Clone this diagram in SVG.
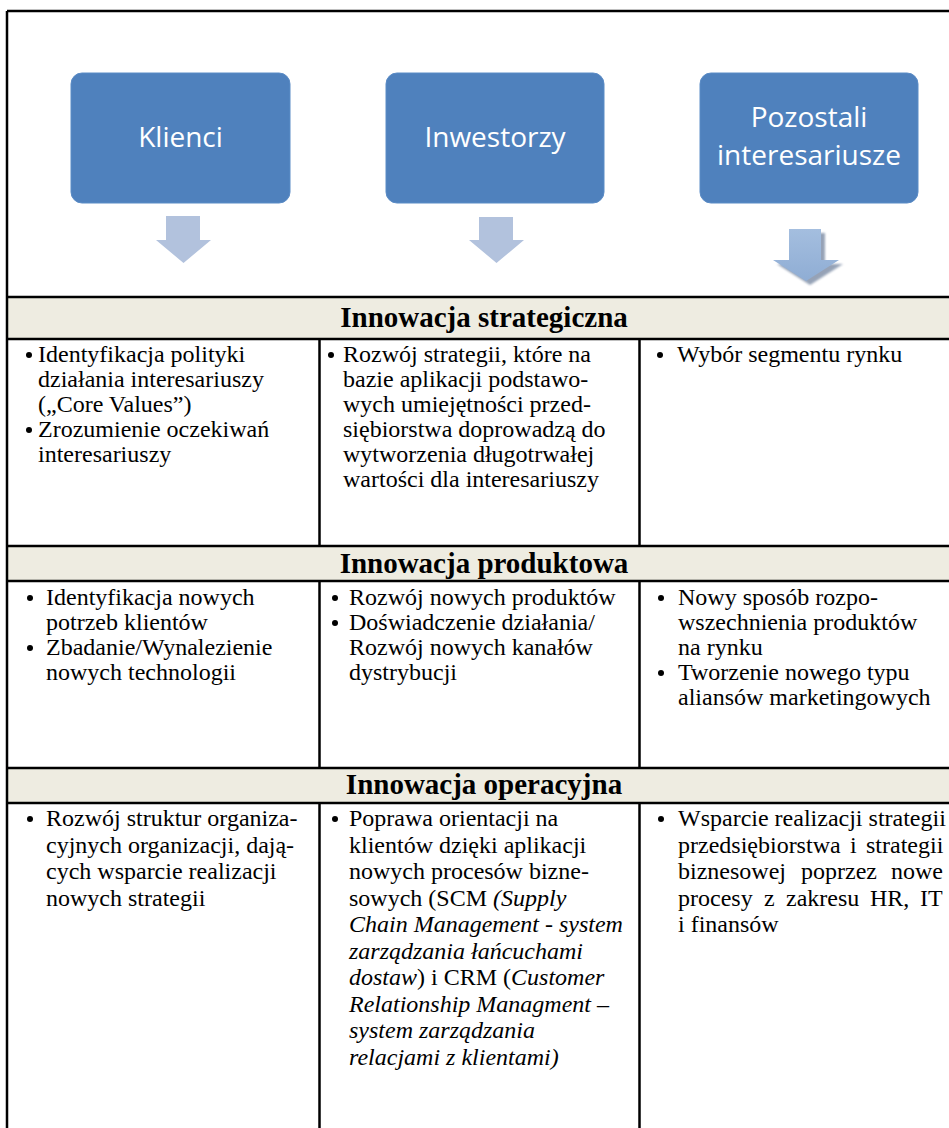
<svg xmlns="http://www.w3.org/2000/svg" width="949" height="1128" viewBox="0 0 949 1128">
  <defs>
    <style>
      .box { fill: #4F81BD; stroke: #5B8CC6; stroke-width: 1; }
      .boxt { font-family: "Open Sans", "Noto Sans", sans-serif; font-size: 28px; fill: #FFFFFF; text-anchor: middle; }
      .arrow { fill: #B2C2DD; }
      .arrow3 { fill: url(#arrowFill); }
      .shadow { fill: #7C8CA5; opacity: 0.8; }
      .hdr { fill: #EEECE1; }
      .hdrt { font-family: "Liberation Serif", "Times New Roman", serif; font-weight: bold; font-size: 29px; fill: #000; text-anchor: middle; }
      .txt { font-family: "Liberation Serif", "Times New Roman", serif; font-size: 24px; fill: #000; }
      .it { font-style: italic; }
      .grid { stroke: #000; stroke-width: 2.5; fill: none; }
      .dot { fill: #000; }
    </style>
    <linearGradient id="arrowFill" x1="0" y1="0" x2="0" y2="1">
      <stop offset="0" stop-color="#A4BEDF"/>
      <stop offset="1" stop-color="#8FADD4"/>
    </linearGradient>
    <filter id="soft" x="-20%" y="-20%" width="140%" height="140%">
      <feGaussianBlur stdDeviation="1.2"/>
    </filter>
  </defs>

  <rect x="0" y="0" width="949" height="1128" fill="#FFFFFF"/>

  <!-- stakeholder boxes -->
  <g id="node-klienci">
    <rect class="box" x="71" y="73" width="219" height="130" rx="11"/>
    <text class="boxt" x="180.5" y="147">Klienci</text>
  </g>
  <g id="node-inwestorzy">
    <rect class="box" x="386" y="73" width="218" height="130" rx="11"/>
    <text class="boxt" x="495" y="147">Inwestorzy</text>
  </g>
  <g id="node-pozostali">
    <rect class="box" x="700" y="73" width="218" height="130" rx="11"/>
    <text class="boxt" x="809" y="127">Pozostali</text>
    <text class="boxt" x="809" y="165">interesariusze</text>
  </g>

  <!-- down arrows -->
  <g id="connectors">
    <polygon class="arrow" points="166,216 200,216 200,240 211,240 183.5,263 156,240 166,240"/>
    <polygon class="arrow" points="479,217 513,217 513,240 524,240 496.5,263 469,240 479,240"/>
    <polygon class="shadow" filter="url(#soft)" points="793,233 825,233 825,264 843,264 810,285 777,264 793,264"/>
    <polygon class="arrow3" points="789,229 821,229 821,260 839,260 806,281 773,260 789,260"/>
  </g>

  <!-- header bands -->
  <g id="headers">
    <rect class="hdr" x="7" y="297" width="960" height="42"/>
    <rect class="hdr" x="7" y="546" width="960" height="35"/>
    <rect class="hdr" x="7" y="768" width="960" height="35"/>
    <text class="hdrt" x="484" y="327">Innowacja strategiczna</text>
    <text class="hdrt" x="484" y="573">Innowacja produktowa</text>
    <text class="hdrt" x="484" y="794">Innowacja operacyjna</text>
  </g>

  <!-- table rules -->
  <g id="grid" class="grid">
    <line x1="7" y1="11" x2="960" y2="11"/>
    <line x1="7" y1="11" x2="7" y2="1130"/>
    <line x1="7" y1="297" x2="960" y2="297"/>
    <line x1="7" y1="339" x2="960" y2="339"/>
    <line x1="7" y1="546" x2="960" y2="546"/>
    <line x1="7" y1="581" x2="960" y2="581"/>
    <line x1="7" y1="768" x2="960" y2="768"/>
    <line x1="7" y1="803" x2="960" y2="803"/>
    <line x1="319.5" y1="339" x2="319.5" y2="546"/>
    <line x1="639.5" y1="339" x2="639.5" y2="546"/>
    <line x1="319.5" y1="581" x2="319.5" y2="768"/>
    <line x1="639.5" y1="581" x2="639.5" y2="768"/>
    <line x1="319.5" y1="803" x2="319.5" y2="1130"/>
    <line x1="639.5" y1="803" x2="639.5" y2="1130"/>
  </g>

  <!-- strategic innovation row -->
  <g id="row-strategic">
    <circle class="dot" cx="29" cy="355" r="3"/>
    <circle class="dot" cx="29" cy="430" r="3"/>
    <text class="txt">
      <tspan x="38" y="362">Identyfikacja polityki</tspan>
      <tspan x="38" y="387">działania interesariuszy</tspan>
      <tspan x="38" y="412">(„Core Values”)</tspan>
      <tspan x="38" y="437">Zrozumienie oczekiwań</tspan>
      <tspan x="38" y="462">interesariuszy</tspan>
    </text>
    <circle class="dot" cx="331" cy="355" r="3"/>
    <text class="txt">
      <tspan x="343" y="362">Rozwój strategii, które na</tspan>
      <tspan x="343" y="387">bazie aplikacji podstawo-</tspan>
      <tspan x="343" y="412">wych umiejętności przed-</tspan>
      <tspan x="343" y="437">siębiorstwa doprowadzą do</tspan>
      <tspan x="343" y="462">wytworzenia długotrwałej</tspan>
      <tspan x="343" y="487">wartości dla interesariuszy</tspan>
    </text>
    <circle class="dot" cx="660" cy="355" r="3"/>
    <text class="txt" x="677" y="362">Wybór segmentu rynku</text>
  </g>

  <!-- product innovation row -->
  <g id="row-product">
    <circle class="dot" cx="30" cy="598" r="3"/>
    <circle class="dot" cx="30" cy="648" r="3"/>
    <text class="txt">
      <tspan x="46" y="605">Identyfikacja nowych</tspan>
      <tspan x="46" y="630">potrzeb klientów</tspan>
      <tspan x="46" y="655">Zbadanie/Wynalezienie</tspan>
      <tspan x="46" y="680">nowych technologii</tspan>
    </text>
    <circle class="dot" cx="335" cy="598" r="3"/>
    <circle class="dot" cx="335" cy="623" r="3"/>
    <text class="txt">
      <tspan x="349" y="605">Rozwój nowych produktów</tspan>
      <tspan x="349" y="630">Doświadczenie działania/</tspan>
      <tspan x="349" y="655">Rozwój nowych kanałów</tspan>
      <tspan x="349" y="680">dystrybucji</tspan>
    </text>
    <circle class="dot" cx="661" cy="598" r="3"/>
    <circle class="dot" cx="661" cy="673" r="3"/>
    <text class="txt">
      <tspan x="678" y="605">Nowy sposób rozpo-</tspan>
      <tspan x="678" y="630">wszechnienia produktów</tspan>
      <tspan x="678" y="655">na rynku</tspan>
      <tspan x="678" y="680">Tworzenie nowego typu</tspan>
      <tspan x="678" y="705">aliansów marketingowych</tspan>
    </text>
  </g>

  <!-- operational innovation row -->
  <g id="row-operational">
    <circle class="dot" cx="30" cy="819" r="3"/>
    <text class="txt">
      <tspan x="46" y="826">Rozwój struktur organiza-</tspan>
      <tspan x="46" y="852.5">cyjnych organizacji, dają-</tspan>
      <tspan x="46" y="879">cych wsparcie realizacji</tspan>
      <tspan x="46" y="905.5">nowych strategii</tspan>
    </text>
    <circle class="dot" cx="335" cy="819" r="3"/>
    <text class="txt">
      <tspan x="349" y="826">Poprawa orientacji na</tspan>
      <tspan x="349" y="852.5">klientów dzięki aplikacji</tspan>
      <tspan x="349" y="879">nowych procesów bizne-</tspan>
      <tspan x="349" y="905.5">sowych (SCM <tspan class="it">(Supply</tspan></tspan>
      <tspan x="349" y="932" class="it">Chain Management - system</tspan>
      <tspan x="349" y="958.5" class="it">zarządzania łańcuchami</tspan>
      <tspan x="349" y="985"><tspan class="it">dostaw</tspan>) i CRM (<tspan class="it">Customer</tspan></tspan>
      <tspan x="349" y="1011.5" class="it">Relationship Managment –</tspan>
      <tspan x="349" y="1038" class="it">system zarządzania</tspan>
      <tspan x="349" y="1064.5" class="it">relacjami z klientami)</tspan>
    </text>
    <circle class="dot" cx="661" cy="819" r="3"/>
    <text class="txt">
      <tspan x="678" y="826">Wsparcie realizacji strategii</tspan>
      <tspan x="678" y="852.5">przedsiębiorstwa</tspan><tspan x="850" y="852.5">i</tspan><tspan x="866" y="852.5">strategii</tspan>
      <tspan x="678" y="879">biznesowej</tspan><tspan x="801" y="879">poprzez</tspan><tspan x="891" y="879">nowe</tspan>
      <tspan x="678" y="905.5">procesy</tspan><tspan x="764" y="905.5">z</tspan><tspan x="786" y="905.5">zakresu</tspan><tspan x="870" y="905.5">HR,</tspan><tspan x="920" y="905.5">IT</tspan>
      <tspan x="678" y="932">i finansów</tspan>
    </text>
  </g>
</svg>
